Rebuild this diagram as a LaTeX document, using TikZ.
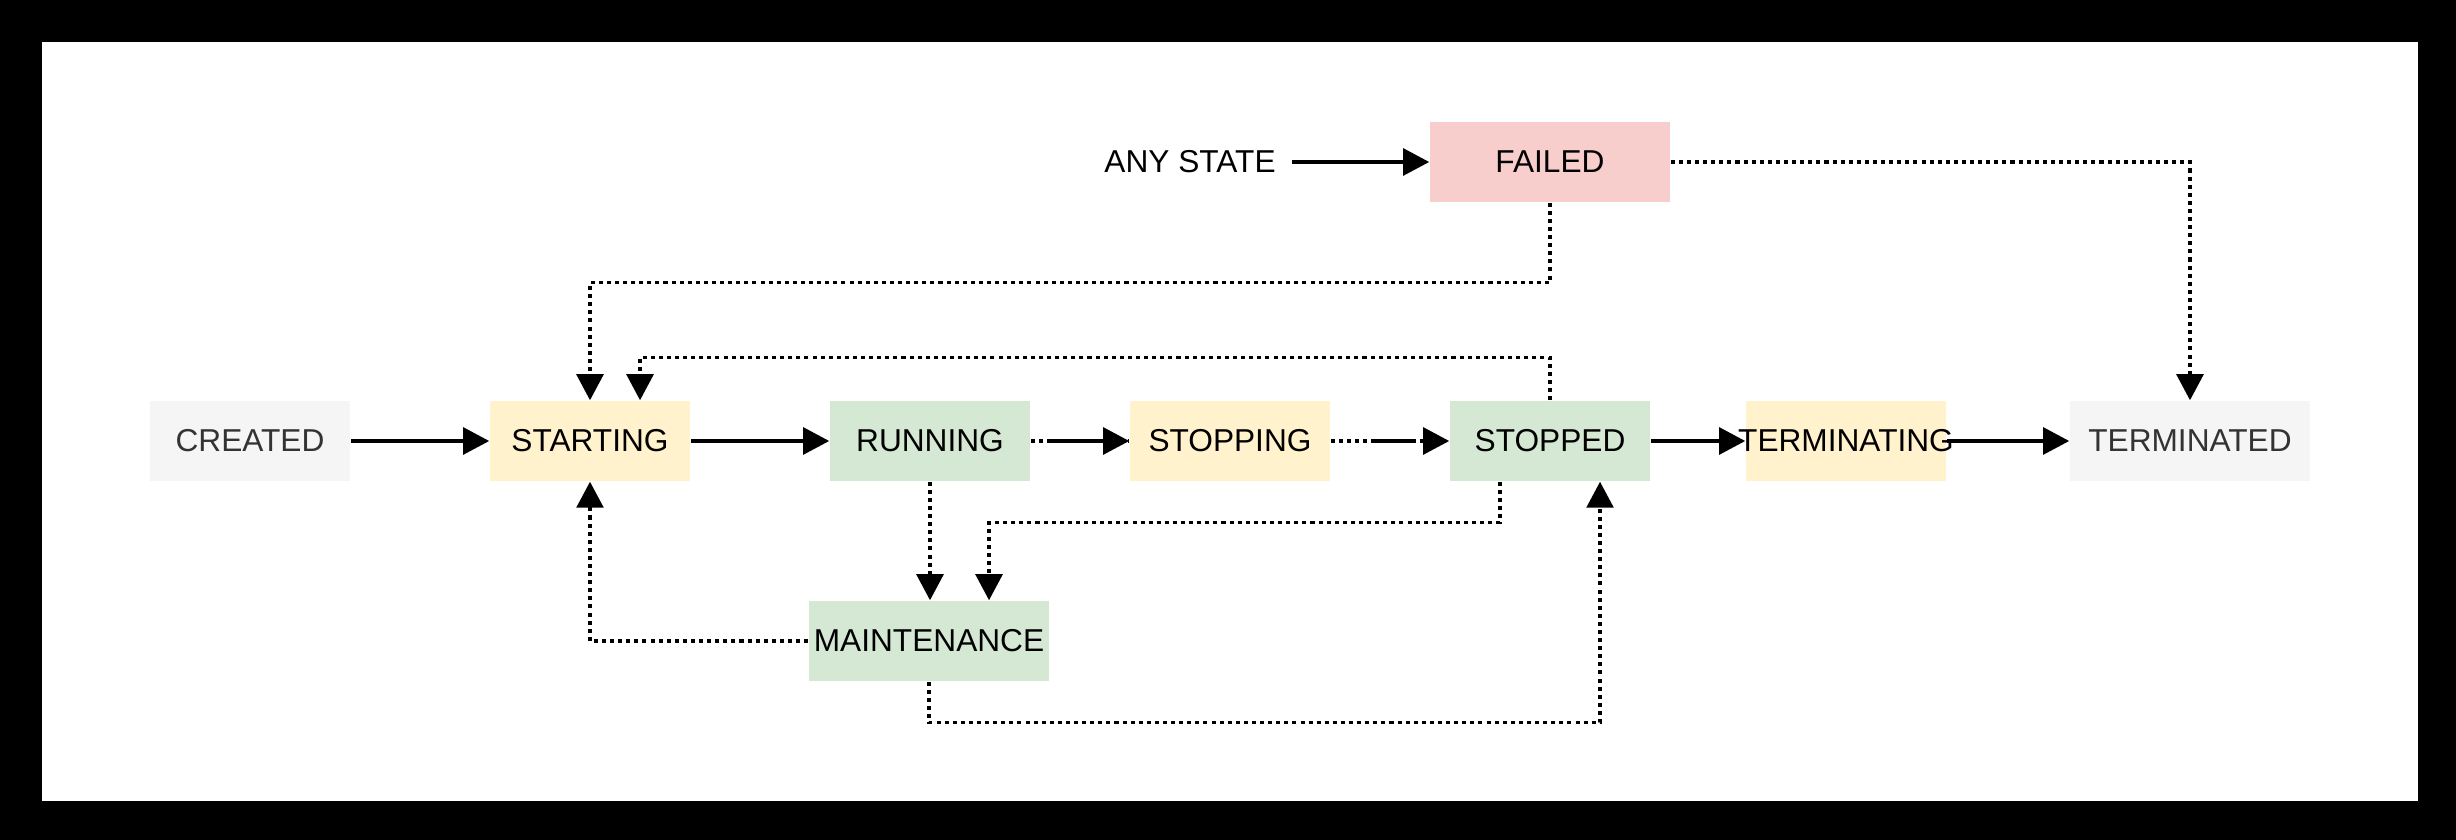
\documentclass[tikz,border=0pt]{standalone}
\usepackage{fontspec}
\setmainfont{Liberation Sans}
\usetikzlibrary{arrows.meta}
\definecolor{grayfill}{HTML}{F5F5F5}
\definecolor{grayText}{HTML}{333333}
\definecolor{yellowfill}{HTML}{FFF2CC}
\definecolor{greenfill}{HTML}{D5E8D4}
\definecolor{redfill}{HTML}{F8CECC}
\tikzset{
  state/.style={rectangle, inner sep=0pt, minimum width=2cm, minimum height=0.8cm, font=\fontsize{9}{11}\selectfont},
  widestate/.style={state, minimum width=2.4cm},
  graystate/.style={fill=grayfill, text=grayText},
  yellowstate/.style={fill=yellowfill},
  greenstate/.style={fill=greenfill},
  redstate/.style={fill=redfill},
  conn/.style={line width=1pt, -{Triangle[width=7.6pt,length=7.4pt]}},
  plainline/.style={line width=1pt},
  dotline/.style={conn, dash pattern=on 1.15pt off 1.15pt},
  dotplain/.style={line width=1pt, dash pattern=on 1.15pt off 1.15pt},
}
\begin{document}
\begin{tikzpicture}[x=0.01cm, y=-0.01cm]
\fill[black] (0,0) rectangle (2456,840);
\fill[white] (42,42) rectangle (2418,801);
\useasboundingbox (0,0) rectangle (2456,840);

\node[state, graystate] (created) at (250,441) {CREATED};
\node[state, yellowstate] (starting) at (590,441) {STARTING};
\node[state, greenstate] (running) at (930,441) {RUNNING};
\node[state, yellowstate] (stopping) at (1230,441) {STOPPING};
\node[state, greenstate] (stopped) at (1550,441) {STOPPED};
\node[state, yellowstate] (terminating) at (1846,441) {\makebox[0pt]{TERMINATING}};
\node[widestate, graystate] (terminated) at (2190,441) {TERMINATED};
\node[widestate, redstate] (failed) at (1550,162) {FAILED};
\node[widestate, greenstate] (maint) at (929,641) {MAINTENANCE};
\node[inner sep=0pt, font=\fontsize{9}{11}\selectfont] (anystate) at (1190,162) {ANY STATE};

% solid transitions
\draw[conn, shorten <=0.16cm] (anystate.east) -- (failed.west);
\draw[conn] (created) -- (starting);
\draw[conn] (starting) -- (running);
\draw[dotplain] (running.east) -- (stopping.west);
\draw[conn, shorten <=0.17cm] (running.east) -- (stopping.west);
\draw[dotline] (stopping.east) -- (stopped.west);
\draw[plainline, shorten <=0.4cm, shorten >=0.35cm] (stopping.east) -- (stopped.west);
\draw[conn] (stopped) -- (terminating);
\draw[conn] (terminating) -- (terminated);

% dotted transitions
\draw[dotline] (failed.east) -| (terminated.north);
\draw[dotline] (failed.south) -- ++(0,80) -| (starting.north);
\draw[dotline] (stopped.north) -- ++(0,-43) -| ([xshift=0.5cm]starting.north);
\draw[dotline] (running.south) -- (running.south |- maint.north);
\draw[dotline] ([xshift=-0.5cm]stopped.south) -- ++(0,41) -| ([xshift=0.6cm]maint.north);
\draw[dotline] (maint.west) -| (starting.south);
\draw[dotline] (maint.south) -- ++(0,41) -| ([xshift=0.5cm]stopped.south);
\end{tikzpicture}
\end{document}
